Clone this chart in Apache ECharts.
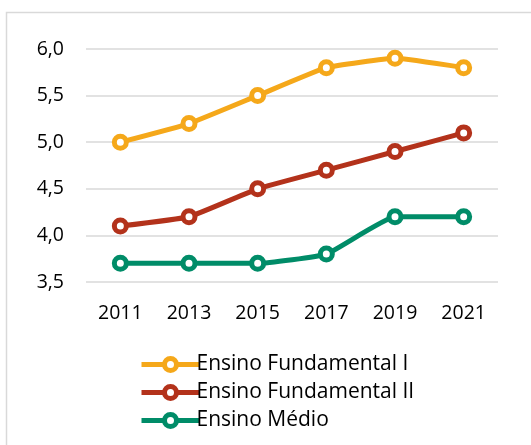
<!DOCTYPE html>
<html>
<head>
<meta charset="utf-8">
<script src="https://cdn.jsdelivr.net/npm/echarts@6/dist/echarts.min.js"></script>
<style>
  html, body { margin: 0; padding: 0; background: #fff; }
  #chart { width: 531px; height: 445px; }
</style>
</head>
<body>
<div id="chart"></div>
<script>
// Anos e notas por etapa de ensino
const years = ['2011', '2013', '2015', '2017', '2019', '2021'];
const fundamentalI = [5.0, 5.2, 5.5, 5.8, 5.9, 5.8];
const fundamentalII = [4.1, 4.2, 4.5, 4.7, 4.9, 5.1];
const medio = [3.7, 3.7, 3.7, 3.8, 4.2, 4.2];

const seriesNames = ['Ensino Fundamental I', 'Ensino Fundamental II', 'Ensino Médio'];
const seriesColors = ['#F5A81A', '#B3321B', '#008C68'];
const seriesData = [fundamentalI, fundamentalII, medio];

const font = '"Open Sans", "Noto Sans", sans-serif';

const chart = echarts.init(document.getElementById('chart'));

chart.setOption({
  animation: false,
  backgroundColor: '#fff',
  graphic: [{
    type: 'rect',
    shape: { x: 6.5, y: 12.5, width: 540, height: 450 },
    style: { fill: 'none', stroke: '#d9d9d9', lineWidth: 1.5 },
    silent: true,
    z: -1
  }],
  grid: { left: 86, right: 33, top: 49, height: 233 },
  legend: {
    orient: 'vertical',
    left: 134,
    top: 349,
    itemGap: 7,
    itemWidth: 58,
    itemHeight: 15,
    lineStyle: { width: 5 },
    itemStyle: { borderWidth: 5 },
    textStyle: { fontFamily: font, fontSize: 21, color: '#000', padding: [0, 0, 0, -8] },
    data: seriesNames
  },
  xAxis: {
    type: 'category',
    data: years,
    boundaryGap: true,
    axisLine: { show: false },
    axisTick: { show: false },
    axisLabel: { fontFamily: font, fontSize: 19.5, color: '#000', margin: 21 }
  },
  yAxis: {
    type: 'value',
    min: 3.5,
    max: 6,
    interval: 0.5,
    axisLine: { show: false },
    axisTick: { show: false },
    splitLine: { lineStyle: { color: '#d9d9d9', width: 1.5 } },
    axisLabel: {
      fontFamily: font, fontSize: 19.5, color: '#000', margin: 22,
      formatter: v => v.toFixed(1).replace('.', ',')
    }
  },
  series: seriesNames.map((name, i) => ({
    name,
    type: 'line',
    data: seriesData[i],
    smooth: 0.12,
    symbol: 'circle',
    symbolSize: 12,
    color: seriesColors[i],
    lineStyle: { width: 5, color: seriesColors[i] },
    itemStyle: { color: '#fff', borderColor: seriesColors[i], borderWidth: 5 }
  }))
});
</script>
</body>
</html>
